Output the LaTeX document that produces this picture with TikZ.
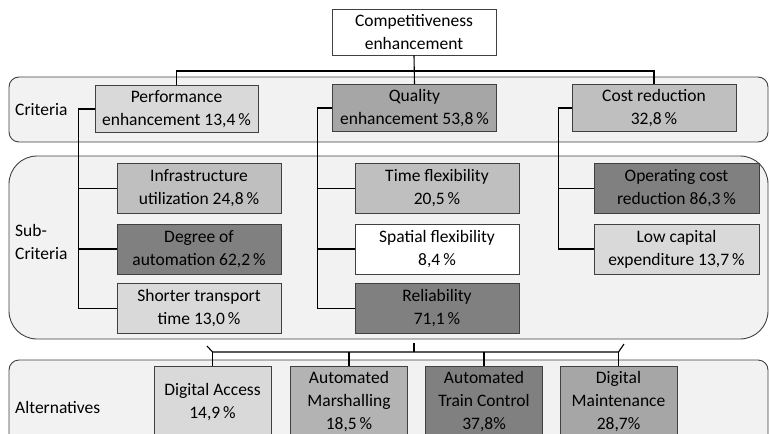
\documentclass[tikz,border=0pt]{standalone}
\usepackage{fontspec}
\setmainfont{Carlito}
\definecolor{bandgray}{HTML}{F2F2F2}
\definecolor{framegray}{HTML}{404040}
\definecolor{wlight}{HTML}{D9D9D9}
\definecolor{wmid}{HTML}{BFBFBF}
\definecolor{wmark}{HTML}{B3B3B3}
\definecolor{wdeep}{HTML}{A6A6A6}
\definecolor{wdark}{HTML}{808080}
\tikzset{
  band/.style={draw=framegray,fill=bandgray,line width=0.9pt},
  wbox/.style={draw=framegray,line width=0.9pt,align=center,inner sep=0pt,
    minimum width=164pt,minimum height=50pt,font=\fontsize{17.5}{23}\selectfont},
  abox/.style={wbox,minimum width=117pt,minimum height=72pt},
  bandlabel/.style={anchor=west,align=left,inner sep=0pt,font=\fontsize{17.5}{23}\selectfont},
  link/.style={line width=1.1pt}
}
\begin{document}
\begin{tikzpicture}[x=1pt,y=-1pt]
    \useasboundingbox (0,0) rectangle (769,434);
    % Bänder
    \draw[band,rounded corners=10pt] (9,77) rectangle (768,142);
    \draw[band,rounded corners=28pt] (9,156) rectangle (768,339);
    \draw[band,rounded corners=10pt] (9,360) rectangle (768,460);
    \node[bandlabel] (crit) at (15,110) {Criteria};
    \node[bandlabel] (subcrit) at (15,242) {Sub-\\Criteria};
    \node[bandlabel] (alt) at (15,407) {Alternatives};

    % Ziel
    \node[wbox,fill=white,minimum height=46pt] (goal) at (414,32) {Competitiveness\\enhancement};

    % Kriterien
    \node[wbox,fill=wlight,minimum width=163pt,minimum height=47pt] (perf) at (176.5,109) {Performance\\enhancement 13,4\,\%};
    \node[wbox,fill=wdeep,minimum height=47pt] (qual) at (414.5,108) {Quality\\enhancement 53,8\,\%};
    \node[wbox,fill=wmid,minimum height=47pt] (cost) at (654,108) {Cost reduction\\32,8\,\%};

    \draw[link] (goal.south) -- (qual.north);
    \draw[link] (perf.north) |- (414,71) -| (cost.north);

    % Unterkriterien
    \node[wbox,fill=wmid] (infra) at (199,188.5) {Infrastructure\\utilization 24,8\,\%};
    \node[wbox,fill=wdark] (auto) at (199,249) {Degree of\\automation 62,2\,\%};
    \node[wbox,fill=wlight] (trans) at (199,308.5) {Shorter transport\\time 13,0\,\%};
    \node[wbox,fill=wmid] (time) at (437,188.5) {Time flexibility\\20,5\,\%};
    \node[wbox,fill=white] (space) at (437,249) {Spatial flexibility\\8,4\,\%};
    \node[wbox,fill=wdark] (rel) at (437,308.5) {Reliability\\71,1\,\%};
    \node[wbox,fill=wdark,minimum width=165pt] (opex) at (676.5,188.5) {Operating cost\\reduction 86,3\,\%};
    \node[wbox,fill=wlight,minimum width=165pt] (capex) at (676.5,249) {Low capital\\expenditure 13,7\,\%};

    \foreach \p/\c/\d in {perf/infra/16,perf/auto/16,perf/trans/16,qual/time/15,qual/space/15,qual/rel/15,cost/opex/13,cost/capex/13}
      \draw[link] (\p.west) -- ++(-\d,0) |- (\c.west);

    % Alternativen
    \node[abox,fill=wlight] (access) at (212.5,402) {Digital Access\\14,9\,\%};
    \node[abox,fill=wmark] (marsh) at (349,402) {Automated\\Marshalling\\18,5\,\%};
    \node[abox,fill=wdark] (atc) at (484,402) {Automated\\Train Control\\37,8\%};
    \node[abox,fill=wdeep] (maint) at (618.5,402) {Digital\\Maintenance\\28,7\%};

    \coordinate (stub) at (414,343);
    \coordinate (tickl) at (207,346);
    \coordinate (tickr) at (624,344);
    \draw[link] (stub) -- (stub |- 0,352);
    \draw[link] (tickl) -- (access.north |- 0,352) -- (maint.north |- 0,352) -- (tickr);
    \foreach \a in {access,marsh,atc,maint}
      \draw[link] (\a.north |- 0,352) -- (\a.north);
\end{tikzpicture}
\end{document}
